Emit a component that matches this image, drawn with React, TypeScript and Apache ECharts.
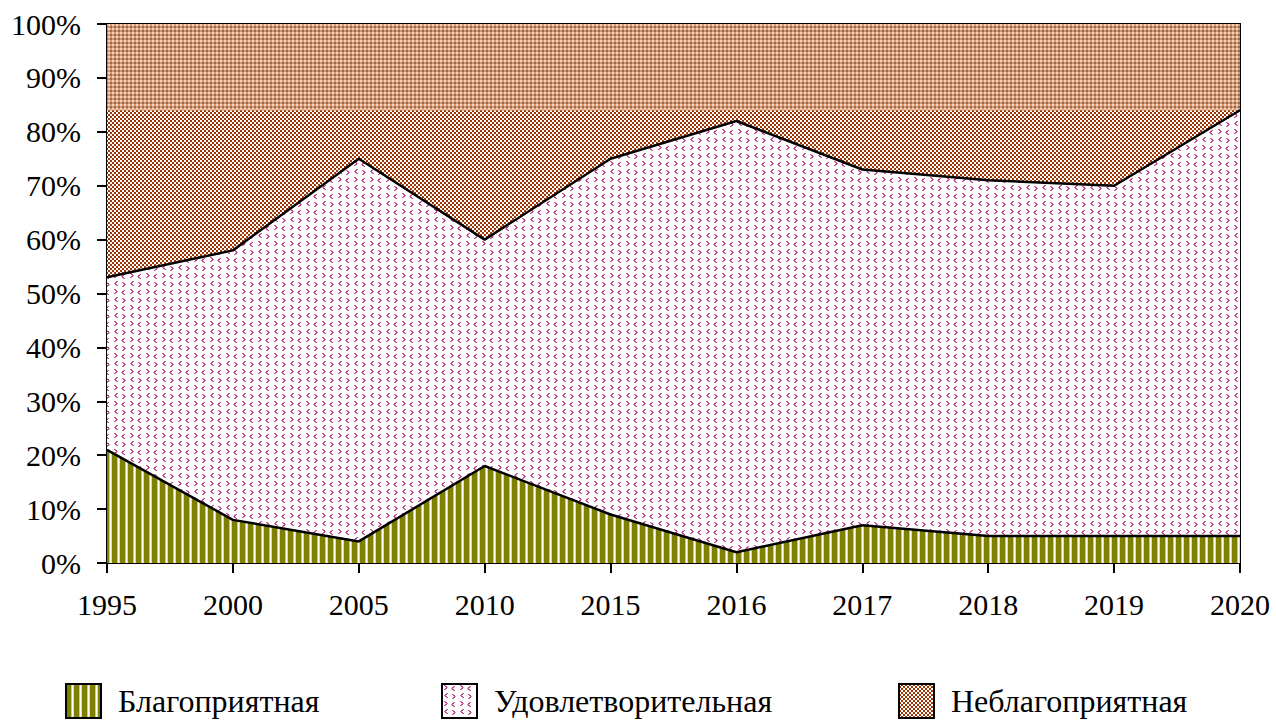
import React, { useEffect, useRef } from "react";
import * as echarts from "echarts";

const years = ["1995", "2000", "2005", "2010", "2015", "2016", "2017", "2018", "2019", "2020"];
const favorable = [21, 8, 4, 18, 9, 2, 7, 5, 5, 5];
const satisfactory = [32, 50, 71, 42, 66, 80, 66, 66, 65, 79];
const unfavorable = [47, 42, 25, 40, 25, 18, 27, 29, 30, 16];
const names = ["Благоприятная", "Удовлетворительная", "Неблагоприятная"];
const yTicks = { min: 0, max: 100, interval: 10 };
const lightBandTop = [100, 100, 100, 100, 100, 100, 100, 100, 100, 100];
const lightBandBottom = 84;

function makeCanvas(w: number, h: number, draw: (c: CanvasRenderingContext2D) => void) {
  const cv = document.createElement("canvas");
  cv.width = w;
  cv.height = h;
  const ctx = cv.getContext("2d")!;
  draw(ctx);
  return cv;
}

function stripePattern() {
  return makeCanvas(8, 8, (c) => {
    c.fillStyle = "#ffffff";
    c.fillRect(0, 0, 8, 8);
    c.fillStyle = "#7f8000";
    c.fillRect(0, 0, 5, 8);
    c.fillStyle = "#c8ca8e";
    c.fillRect(5, 0, 1, 8);
    c.fillStyle = "#dcdcb0";
    c.fillRect(7, 0, 1, 8);
  });
}

function chevronPattern() {
  return makeCanvas(16, 16, (c) => {
    c.fillStyle = "#ffffff";
    c.fillRect(0, 0, 16, 16);
    const px = (x: number, y: number, col: string) => {
      c.fillStyle = col;
      c.fillRect(x, y, 1, 1);
    };
    const dark = "#b8448e";
    const light = "#d994c2";
    const right = (x: number, y: number) => {
      px(x, y, dark);
      px(x + 1, y, light);
      px(x + 1, y + 1, dark);
      px(x + 2, y + 1, dark);
      px(x + 2, y + 2, dark);
      px(x + 3, y + 2, light);
      px(x + 1, y + 3, dark);
      px(x + 2, y + 3, dark);
      px(x, y + 4, dark);
      px(x + 1, y + 4, light);
    };
    const left = (x: number, y: number) => {
      px(x + 3, y, dark);
      px(x + 2, y, light);
      px(x + 2, y + 1, dark);
      px(x + 1, y + 1, dark);
      px(x + 1, y + 2, dark);
      px(x, y + 2, light);
      px(x + 2, y + 3, dark);
      px(x + 1, y + 3, dark);
      px(x + 3, y + 4, dark);
      px(x + 2, y + 4, light);
    };
    right(2, 1);
    left(9, 2);
    left(2, 9);
    right(10, 10);
  });
}

function checkerPattern() {
  return makeCanvas(4, 4, (c) => {
    c.fillStyle = "#9e3502";
    c.fillRect(0, 0, 4, 4);
    c.fillStyle = "#ffffff";
    c.fillRect(0, 0, 2, 2);
    c.fillRect(2, 2, 2, 2);
  });
}

function lightCheckerPattern() {
  return makeCanvas(4, 4, (c) => {
    c.fillStyle = "#d49a78";
    c.fillRect(0, 0, 4, 4);
    c.fillStyle = "#f6d2b2";
    c.fillRect(0, 0, 2, 2);
    c.fillStyle = "#9c6a50";
    c.fillRect(2, 2, 2, 2);
  });
}

export default function App() {
  const ref = useRef<HTMLDivElement>(null);
  useEffect(() => {
    if (!ref.current) return;
    const chart = echarts.init(ref.current, undefined, { renderer: "svg" });
    const pGreen = { image: stripePattern(), repeat: "repeat" } as any;
    const pPink = { image: chevronPattern(), repeat: "repeat" } as any;
    const pBrown = { image: checkerPattern(), repeat: "repeat" } as any;
    const pLight = { image: lightCheckerPattern(), repeat: "repeat" } as any;
    const font = "Liberation Serif";
    const fills = [pGreen, pPink, pBrown];
    const legendPos = [65, 441, 898];
    chart.setOption({
      animation: false,
      backgroundColor: "#ffffff",
      textStyle: { fontFamily: font },
      grid: {
        left: 107,
        right: 36,
        top: 24,
        bottom: 163,
        show: true,
        borderColor: "#000",
        borderWidth: 2,
        backgroundColor: "transparent",
      },
      legend: names.map((n, i) => ({
        left: legendPos[i],
        top: 683,
        padding: 0,
        itemWidth: 35,
        itemHeight: 34,
        itemGap: 10,
        icon: "rect",
        textStyle: { fontFamily: font, fontWeight: "normal", fontSize: 32, color: "#000", padding: [0, 0, 0, 12] },
        data: [
          {
            name: n,
            itemStyle: { color: fills[i], borderColor: "#000", borderWidth: 2 },
          },
        ],
      })),
      xAxis: {
        type: "category",
        data: years,
        boundaryGap: false,
        axisLine: { lineStyle: { color: "#000", width: 2 } },
        axisTick: { show: true, length: 10, lineStyle: { color: "#000", width: 2 } },
        axisLabel: { color: "#000", fontSize: 30, fontFamily: font, fontWeight: "normal", margin: 26 },
        splitLine: { show: false },
      },
      yAxis: {
        type: "value",
        min: yTicks.min,
        max: yTicks.max,
        interval: yTicks.interval,
        axisLine: { show: true, lineStyle: { color: "#000", width: 2 } },
        axisTick: { show: true, length: 10, lineStyle: { color: "#000", width: 2 } },
        axisLabel: { color: "#000", fontSize: 30, fontFamily: font, fontWeight: "normal", margin: 26, formatter: "{value}%" },
        splitLine: { show: false },
      },
      series: [
        {
          name: names[0],
          type: "line",
          stack: "total",
          data: favorable,
          symbol: "none",
          lineStyle: { color: "#000", width: 2.5 },
          itemStyle: { color: pGreen },
          areaStyle: { color: pGreen, opacity: 1 },
          z: 4,
        },
        {
          name: names[1],
          type: "line",
          stack: "total",
          data: satisfactory,
          symbol: "none",
          lineStyle: { color: "#000", width: 2.5 },
          itemStyle: { color: pPink },
          areaStyle: { color: pPink, opacity: 1 },
          z: 4,
        },
        {
          name: names[2],
          type: "line",
          stack: "total",
          data: unfavorable,
          symbol: "none",
          lineStyle: { color: "#000", width: 2 },
          itemStyle: { color: pBrown },
          areaStyle: { color: pBrown, opacity: 1 },
          z: 2,
        },
        {
          name: "band",
          type: "line",
          data: lightBandTop,
          symbol: "none",
          silent: true,
          lineStyle: { width: 0, opacity: 0 },
          areaStyle: { color: pLight, opacity: 1, origin: lightBandBottom },
          z: 3,
        },
      ],
    });
    return () => chart.dispose();
  }, []);
  return <div ref={ref} style={{ width: 1276, height: 726, position: "absolute", left: 0, top: 0 }} />;
}
